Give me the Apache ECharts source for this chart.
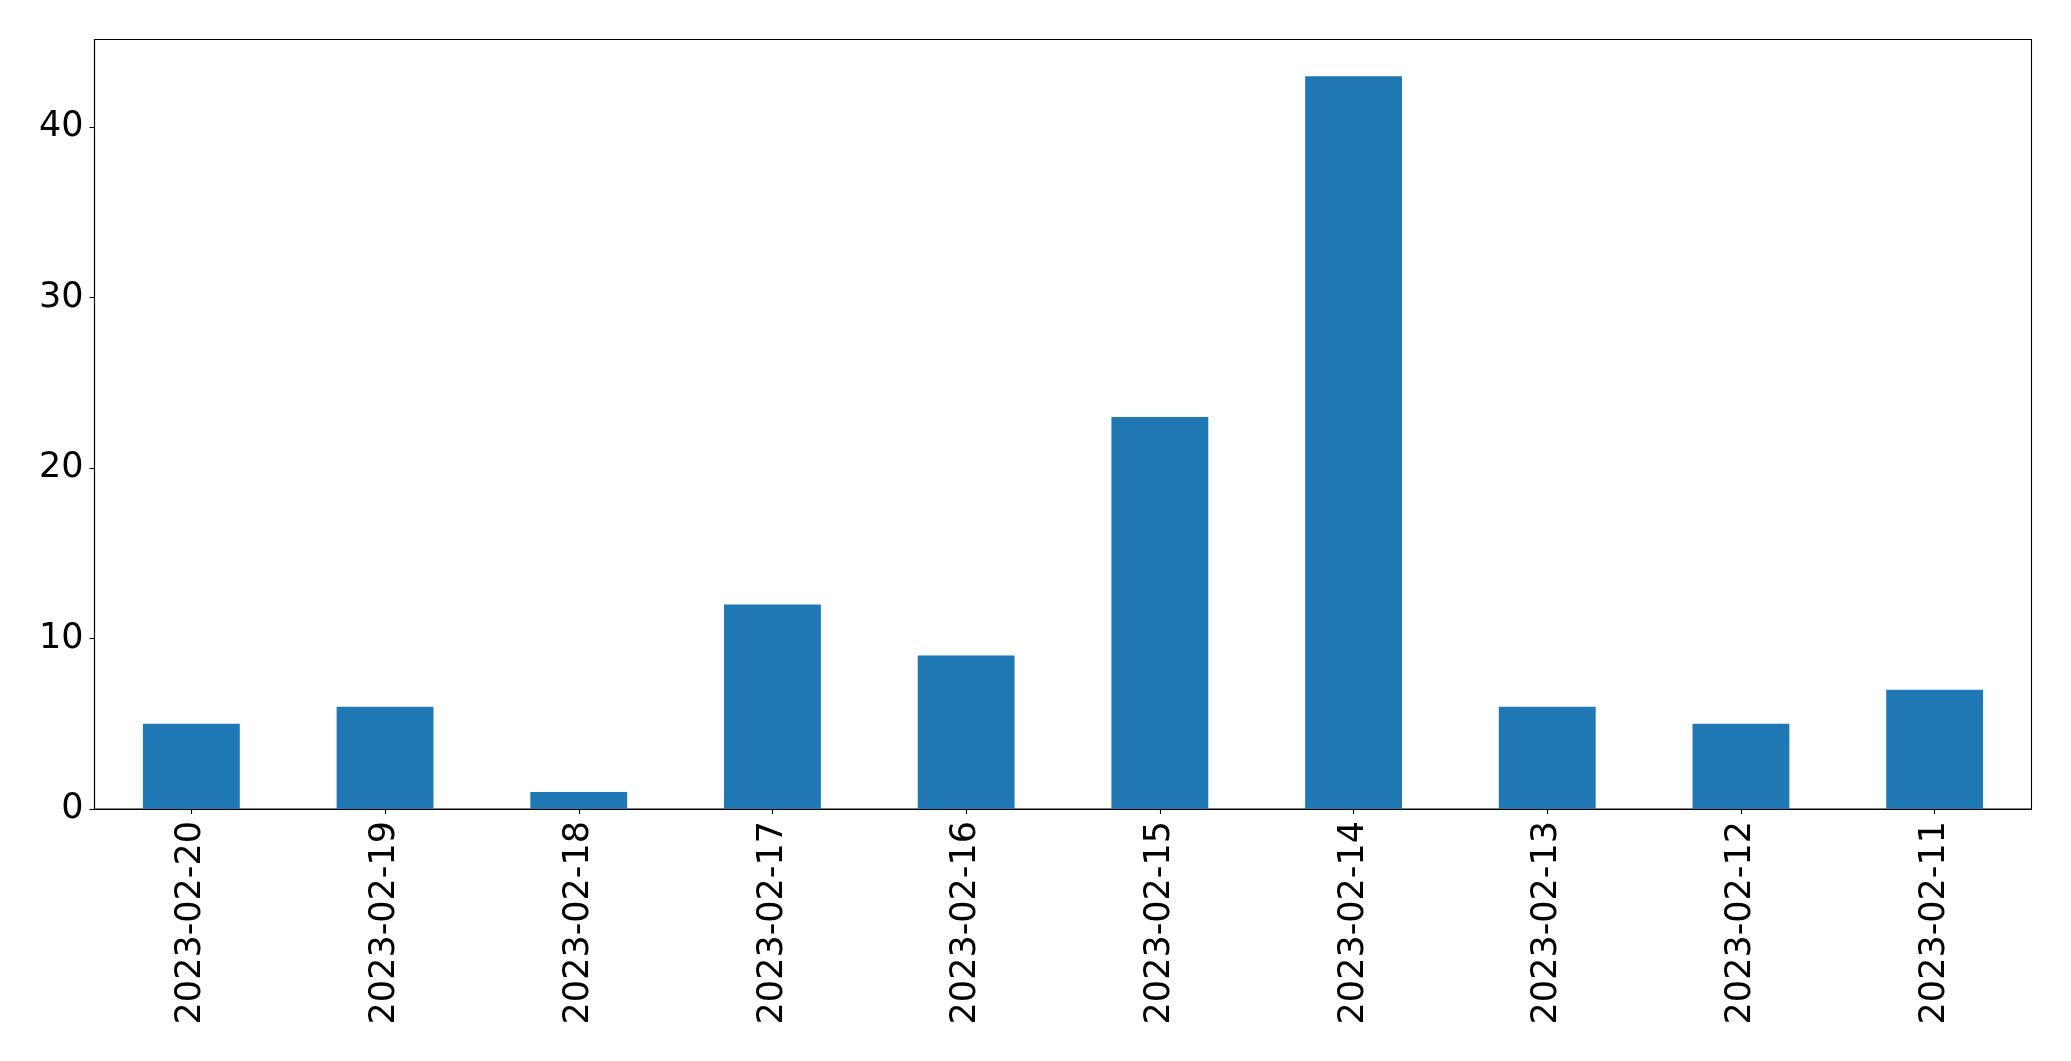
<!DOCTYPE html>
<html>
<head>
<meta charset="utf-8">
<script src="https://cdn.jsdelivr.net/npm/echarts@6/dist/echarts.min.js"></script>
<style>
html,body{margin:0;padding:0;background:#fff;}
#chart{width:2071px;height:1061px;}
</style>
</head>
<body>
<div id="chart"></div>
<script>
const categories = ["2023-02-20","2023-02-19","2023-02-18","2023-02-17","2023-02-16","2023-02-15","2023-02-14","2023-02-13","2023-02-12","2023-02-11"];
const values = [5, 6, 1, 12, 9, 23, 43, 6, 5, 7];

const chart = echarts.init(document.getElementById('chart'), null, {renderer:'canvas'});
const font = "DejaVu Sans";
chart.setOption({
  animation: false,
  backgroundColor: '#ffffff',
  grid: {
    left: 94.5, top: 39.5, right: 39.5, bottom: 252,
    show: true, borderColor: '#000', borderWidth: 1.1, backgroundColor: 'transparent'
  },
  xAxis: {
    type: 'category',
    data: categories,
    boundaryGap: true,
    axisLine: {show: true, lineStyle: {color: '#000', width: 1.1}},
    axisTick: {show: true, alignWithLabel: true, length: 5, lineStyle: {color: '#000', width: 1.1}},
    axisLabel: {rotate: 90, margin: 12, color: '#000', fontSize: 35, fontFamily: font, interval: 0},
    splitLine: {show: false}
  },
  yAxis: {
    type: 'value',
    min: 0, max: 45.15, interval: 10,
    axisLine: {show: true, lineStyle: {color: '#000', width: 1.1}},
    axisTick: {show: true, length: 5, lineStyle: {color: '#000', width: 1.1}},
    axisLabel: {margin: 11, color: '#000', fontSize: 35, fontFamily: font, showMaxLabel: false},
    splitLine: {show: false}
  },
  series: [{
    type: 'bar',
    data: values,
    barWidth: '50%',
    itemStyle: {color: '#1f77b4'}
  }]
});
</script>
</body>
</html>
